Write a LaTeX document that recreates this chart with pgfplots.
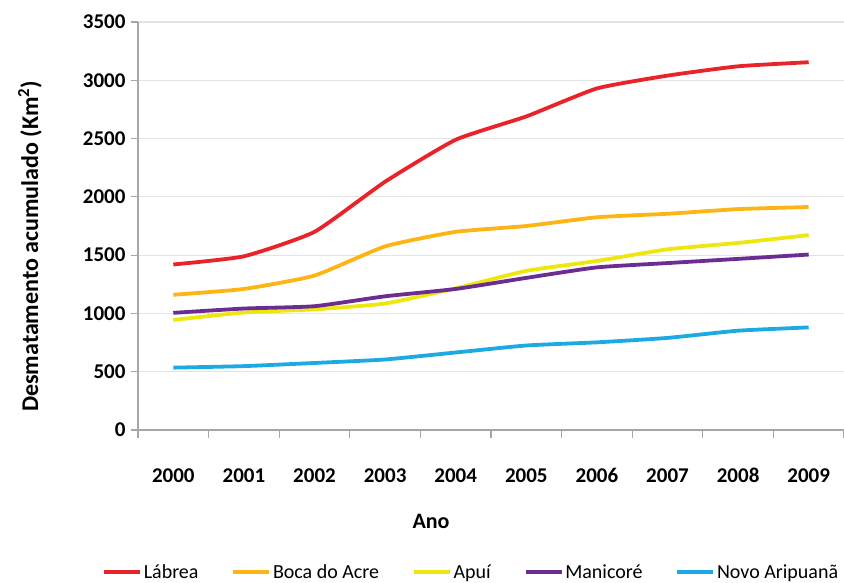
\documentclass[border=0pt]{standalone}
\usepackage{pgfplots}
\pgfplotsset{compat=1.18}
\usepackage{fontspec}
\setmainfont{Carlito}

\definecolor{labrea}{HTML}{E8232A}
\definecolor{boca}{HTML}{FDB515}
\definecolor{apui}{HTML}{EEE70F}
\definecolor{manicore}{HTML}{6B2D91}
\definecolor{novo}{HTML}{1DAAE2}

\begin{document}
\begin{tikzpicture}
\useasboundingbox (-138pt,-152pt) rectangle (706pt,430pt);
\begin{axis}[
  at={(0pt,0pt)}, anchor=south west,
  scale only axis, width=706pt, height=408pt,
  xmin=-0.5, xmax=9.5, ymin=0, ymax=3500,
  xtick={0,...,9},
  xticklabels={2000,2001,2002,2003,2004,2005,2006,2007,2008,2009},
  minor xtick={-0.5,0.5,...,9.5},
  major x tick style={draw=none},
  ytick={0,500,...,3500},
  axis x line*=bottom, axis y line*=left,
  axis line style={draw=gray!70, line width=1.2pt},
  tick style={draw=gray!70, line width=1.2pt},
  tick align=outside,
  major tick length=7pt, minor tick length=8pt,
  ymajorgrids, grid style={draw=gray!22, line width=1.2pt},
  tick label style={font=\bfseries\fontsize{21}{24}\selectfont,
    /pgf/number format/1000 sep={}, /pgf/number format/assume math mode=true},
  x tick label style={anchor=base, yshift=-45pt},
  y tick label style={xshift=-2pt},
  xlabel={Ano},
  xlabel style={at={(axis description cs:0.415,-0.225)}, anchor=center,
    font=\bfseries\fontsize{22}{24}\selectfont},
  ylabel={Desmatamento acumulado (Km\textsuperscript{2})},
  ylabel style={at={(axis description cs:-0.153,0.45)}, anchor=center,
    font=\bfseries\fontsize{24}{26}\selectfont},
  legend columns=5,
  legend style={at={(axis description cs:0.472,-0.348)}, anchor=center,
    draw=none, fill=none, font=\fontsize{20}{24}\selectfont,
    /tikz/every even column/.append style={column sep=31pt}},
  legend image code/.code={\draw[#1, line width=3.5pt] (0pt,0pt) -- (36pt,0pt);},
  every axis plot/.append style={line width=3.8pt, smooth, tension=0.3},
  clip=false,
]
\addplot[labrea] coordinates {
  (0,1420) (1,1490) (2,1700) (3,2130) (4,2490)
  (5,2690) (6,2930) (7,3040) (8,3120) (9,3155)};
\addlegendentry{Lábrea}
\addplot[boca] coordinates {
  (0,1160) (1,1210) (2,1325) (3,1575) (4,1700)
  (5,1750) (6,1825) (7,1855) (8,1895) (9,1913)};
\addlegendentry{Boca do Acre}
\addplot[apui] coordinates {
  (0,944) (1,1008) (2,1035) (3,1085) (4,1215)
  (5,1365) (6,1450) (7,1550) (8,1605) (9,1672)};
\addlegendentry{Apuí}
\addplot[manicore] coordinates {
  (0,1005) (1,1042) (2,1062) (3,1147) (4,1210)
  (5,1305) (6,1395) (7,1432) (8,1468) (9,1505)};
\addlegendentry{Manicoré}
\addplot[novo] coordinates {
  (0,535) (1,548) (2,575) (3,605) (4,665)
  (5,725) (6,752) (7,790) (8,852) (9,880)};
\addlegendentry{Novo Aripuanã}
\end{axis}
\end{tikzpicture}
\end{document}
